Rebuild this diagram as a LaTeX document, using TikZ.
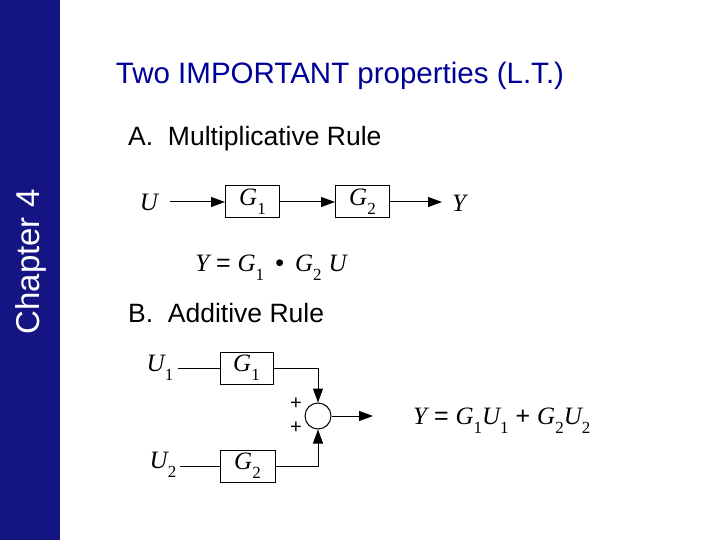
\documentclass[tikz,border=0pt]{standalone}
\usepackage{fontspec}
\setmainfont{Liberation Sans}
\newfontfamily\tms{Liberation Serif}
\usetikzlibrary{arrows.meta}
\definecolor{sidebar}{RGB}{20,20,130}
\definecolor{ttl}{RGB}{0,0,150}
\newcommand{\mi}[1]{{\tms\itshape #1}}
\newcommand{\subsc}[1]{\raisebox{-0.35em}{\tms\fontsize{17}{18}\selectfont #1}}
\tikzset{
  blk/.style={draw,line width=1pt,minimum width=54pt,minimum height=32pt,inner sep=0pt,font=\fontsize{25}{27}\selectfont},
  sig/.style={line width=1pt},
  arr/.style={line width=1pt,-{Triangle[length=14pt,width=10pt]}},
  mlab/.style={font=\fontsize{25}{27}\selectfont,inner sep=0pt},
  txt/.style={font=\fontsize{26.5}{28}\selectfont,anchor=west,inner sep=0pt}
}
\begin{document}
\begin{tikzpicture}[x=1pt,y=-1pt]
\useasboundingbox (0,0) rectangle (720,540);
\fill[sidebar] (0,0) rectangle (60,540);
\node[rotate=90,text=white,font=\fontsize{33}{35}\selectfont] (ch) at (31,262) {Chapter 4};
\node[text=ttl,font=\fontsize{29.5}{31}\selectfont] (title) at (340,76) {Two IMPORTANT properties (L.T.)};
\node[txt] (A) at (128,139) {A.\ \ Multiplicative Rule};
% diagram 1
\node[mlab] (U) at (149,202) {\mi{U}};
\node[blk] (g1) at (252.5,202) {\mi{G}\subsc{1}};
\node[blk] (g2) at (362.5,202) {\mi{G}\subsc{2}};
\node[mlab] (Y) at (459,203) {\mi{Y}};
\coordinate (u0) at (170,202);
\coordinate (y0) at (442,202);
\draw[arr] (u0) -- (g1.west);
\draw[arr] (g1.east) -- (g2.west);
\draw[arr] (g2.east) -- (y0);
\node[mlab] (eq1) at (271,268) {\mi{Y} = \mi{G}\subsc{1} \,\textbullet\, \mi{G}\subsc{2} \mi{U}};
\node[txt] (B) at (128,313) {B.\ \ Additive Rule};
% diagram 2
\node[mlab] (U1) at (160,368) {\mi{U}\subsc{1}};
\node[mlab] (U2) at (163,465) {\mi{U}\subsc{2}};
\node[blk,minimum width=53pt] (h1) at (246.5,368) {\mi{G}\subsc{1}};
\node[blk,minimum width=55pt] (h2) at (247.5,466) {\mi{G}\subsc{2}};
\node[draw,circle,line width=1pt,minimum size=26pt,inner sep=0pt] (s) at (318,416) {};
\node[font=\fontsize{20}{22}\selectfont] (p1) at (296,404) {+};
\node[font=\fontsize{20}{22}\selectfont] (p2) at (296,428) {+};
\coordinate (u1e) at (178,368);
\coordinate (u2e) at (180,466);
\coordinate (out) at (373,416);
\draw[sig] (u1e) -- (h1.west);
\draw[sig] (u2e) -- (h2.west);
\draw[arr] (h1.east) -| (s.north);
\draw[arr] (h2.east) -| (s.south);
\draw[arr] (s.east) -- (out);
\node[mlab,anchor=west] (eq2) at (413,421) {\mi{Y} = \mi{G}\subsc{1}\mi{U}\subsc{1} + \mi{G}\subsc{2}\mi{U}\subsc{2}};
\end{tikzpicture}
\end{document}
